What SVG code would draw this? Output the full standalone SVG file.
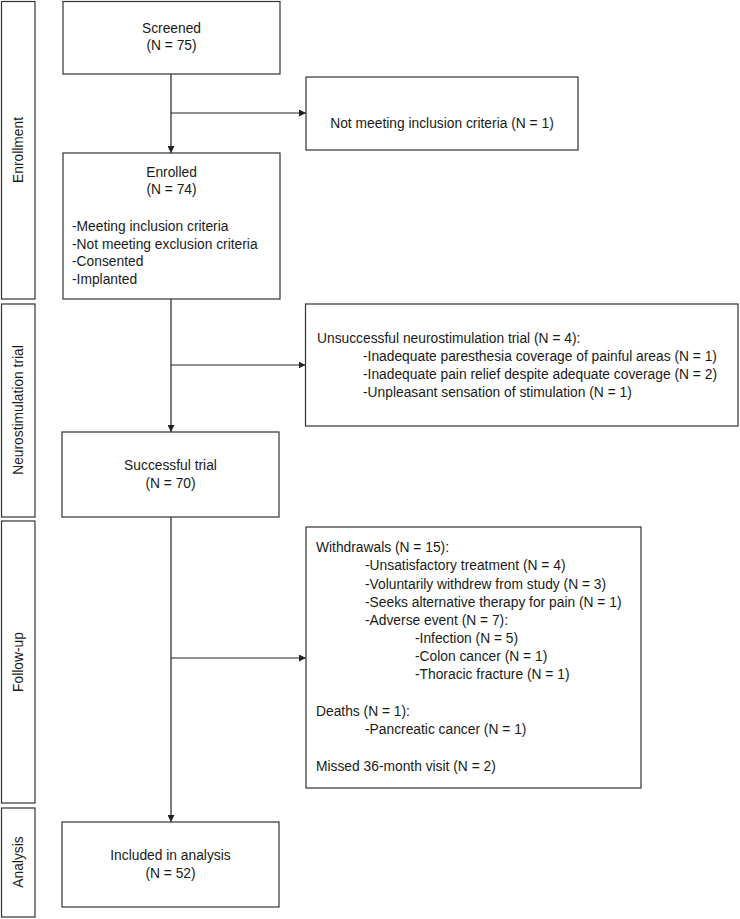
<svg xmlns="http://www.w3.org/2000/svg" width="740" height="919" viewBox="0 0 740 919">
<style>
.box{fill:#fff;stroke:#333;stroke-width:1.2}
.t{font-family:"Liberation Sans",Arial,sans-serif;font-size:13.8px;fill:#1a1a1a}
.c{text-anchor:middle}
.side{text-anchor:middle;dominant-baseline:central}
.ln{stroke:#222;stroke-width:1.2;fill:none}
</style>
<defs>
<marker id="ah" viewBox="0 0 10 10" refX="10" refY="5" markerWidth="7" markerHeight="7" markerUnits="userSpaceOnUse" orient="auto">
<path d="M0,0 L10,5 L0,10 z" fill="#222"/>
</marker>
</defs>
<g id="stages">
<g id="stage-enrollment"><rect class="box" x="1.5" y="1.5" width="33.5" height="297.5"/><text class="t side" transform="translate(18.5,150) rotate(-90)">Enrollment</text></g>
<g id="stage-trial"><rect class="box" x="1.5" y="304" width="33.5" height="213"/><text class="t side" transform="translate(18.5,410) rotate(-90)">Neurostimulation trial</text></g>
<g id="stage-followup"><rect class="box" x="1.5" y="521" width="33.5" height="282"/><text class="t side" transform="translate(18.5,662) rotate(-90)">Follow-up</text></g>
<g id="stage-analysis"><rect class="box" x="1.5" y="808" width="33.5" height="109"/><text class="t side" transform="translate(18.5,862) rotate(-90)">Analysis</text></g>
</g>
<g id="connectors">
<line class="ln" x1="171" y1="74" x2="171" y2="153" marker-end="url(#ah)"/>
<line class="ln" x1="171" y1="113" x2="306" y2="113" marker-end="url(#ah)"/>
<line class="ln" x1="171" y1="299" x2="171" y2="432" marker-end="url(#ah)"/>
<line class="ln" x1="171" y1="365" x2="305.5" y2="365" marker-end="url(#ah)"/>
<line class="ln" x1="171" y1="517" x2="171" y2="822" marker-end="url(#ah)"/>
<line class="ln" x1="171" y1="658" x2="306" y2="658" marker-end="url(#ah)"/>
</g>
<g id="screened"><rect class="box" x="63" y="1.5" width="217" height="72.5"/>
<text class="t c" x="171.5" y="33">Screened</text><text class="t c" x="171.5" y="50">(N = 75)</text></g>
<g id="not-meeting"><rect class="box" x="306" y="77" width="272" height="73"/>
<text class="t c" x="442" y="128">Not meeting inclusion criteria (N = 1)</text></g>
<g id="enrolled"><rect class="box" x="63" y="153" width="217" height="146"/>
<text class="t c" x="171.5" y="177">Enrolled</text><text class="t c" x="171.5" y="194">(N = 74)</text>
<text class="t" x="72" y="231">-Meeting inclusion criteria</text>
<text class="t" x="72" y="248.5">-Not meeting exclusion criteria</text>
<text class="t" x="72" y="266">-Consented</text>
<text class="t" x="72" y="283.5">-Implanted</text></g>
<g id="unsuccessful"><rect class="box" x="305.5" y="304" width="432.5" height="122"/>
<text class="t" x="317" y="343">Unsuccessful neurostimulation trial (N = 4):</text>
<text class="t" x="363" y="361">-Inadequate paresthesia coverage of painful areas (N = 1)</text>
<text class="t" x="363" y="379">-Inadequate pain relief despite adequate coverage (N = 2)</text>
<text class="t" x="363" y="396.5">-Unpleasant sensation of stimulation (N = 1)</text></g>
<g id="successful"><rect class="box" x="62" y="432" width="217" height="85"/>
<text class="t c" x="170.5" y="470">Successful trial</text><text class="t c" x="170.5" y="488">(N = 70)</text></g>
<g id="withdrawals"><rect class="box" x="306" y="527" width="335" height="261"/>
<text class="t" x="316" y="552">Withdrawals (N = 15):</text>
<text class="t" x="365" y="570">-Unsatisfactory treatment (N = 4)</text>
<text class="t" x="365" y="588.5">-Voluntarily withdrew from study (N = 3)</text>
<text class="t" x="365" y="607">-Seeks alternative therapy for pain (N = 1)</text>
<text class="t" x="365" y="624.5">-Adverse event (N = 7):</text>
<text class="t" x="415" y="643">-Infection (N = 5)</text>
<text class="t" x="415" y="661">-Colon cancer (N = 1)</text>
<text class="t" x="415" y="679">-Thoracic fracture (N = 1)</text>
<text class="t" x="316" y="716">Deaths (N = 1):</text>
<text class="t" x="365" y="734">-Pancreatic cancer (N = 1)</text>
<text class="t" x="316" y="771">Missed 36-month visit (N = 2)</text></g>
<g id="included"><rect class="box" x="62" y="822" width="217" height="85"/>
<text class="t c" x="170.5" y="860">Included in analysis</text><text class="t c" x="170.5" y="878">(N = 52)</text></g>
</svg>
